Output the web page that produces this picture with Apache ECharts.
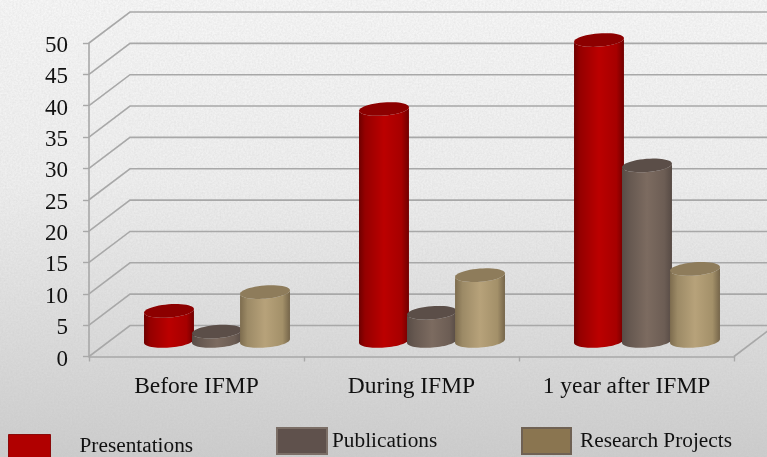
<!DOCTYPE html>
<html><head><meta charset="utf-8">
<script src="https://cdn.jsdelivr.net/npm/echarts@6/dist/echarts.min.js"></script>
<style>
html,body{margin:0;padding:0;width:767px;height:457px;overflow:hidden;background:linear-gradient(180deg,#f8f8f8 0%,#f0f0f0 40%,#cdcdcd 100%);}
#tex{position:absolute;left:0;top:0;width:767px;height:457px;opacity:.28;background-image:url("data:image/svg+xml;utf8,<svg xmlns='http://www.w3.org/2000/svg' width='767' height='457'><filter id='n'><feTurbulence type='fractalNoise' baseFrequency='.55' numOctaves='3' seed='4'/><feColorMatrix values='0 0 0 0 .5 0 0 0 0 .5 0 0 0 0 .5 0 0 0 1.2 -.2'/></filter><rect width='767' height='457' filter='url(%23n)'/></svg>");}
#c{position:absolute;left:0;top:0;width:767px;height:457px;}
</style></head><body><div id="tex"></div><div id="c"></div>
<script>
var categories = ['Before IFMP', 'During IFMP', '1 year after IFMP'];
var presentations = [4.8, 37, 48];
var publications = [1.5, 4.5, 28];
var researchProjects = [7.8, 10.5, 11.5];
var yTicks = [0, 5, 10, 15, 20, 25, 30, 35, 40, 45, 50];

var FONT = '"Liberation Serif","Times New Roman",serif';
var DX = 41, DY = 31;
var LINE = '#a8a8a8';

function ell(cx, cy, rx, ry, from, to, n) {
  var a = -4.5 * Math.PI / 180, out = [];
  for (var i = 0; i <= n; i++) {
    var t = from + (to - from) * i / n;
    out.push([cx + rx * Math.cos(t) * Math.cos(a) - ry * Math.sin(t) * Math.sin(a),
              cy + rx * Math.cos(t) * Math.sin(a) + ry * Math.sin(t) * Math.cos(a)]);
  }
  return out;
}
function grad(stops) {
  return {type: 'linear', x: 0, y: 0, x2: 1, y2: 0,
    colorStops: stops.map(function (s) { return {offset: s[0], color: s[1]}; })};
}
function cylinder(slot, body, cap) {
  return function (params, api) {
    var cat = api.value(0), v = api.value(1);
    var band = api.size([1, 0])[0];
    var p0 = api.coord([cat, 0]), p1 = api.coord([cat, v]);
    var cx = p0[0] + DX / 2 + slot * band * 0.2233;
    var by = p0[1] - DY / 2, ty = p1[1] - DY / 2;
    var rx = band * 0.1165, ry = 6.6;
    var bodyPts = ell(cx, ty, rx, ry, Math.PI, 0, 24).concat(ell(cx, by, rx, ry, 0, Math.PI, 32));
    return {type: 'group', children: [
      {type: 'polygon', shape: {points: bodyPts}, style: {fill: grad(body)}},
      {type: 'polygon', shape: {points: ell(cx, ty, rx, ry, 0, 2 * Math.PI, 48)}, style: {fill: cap}}
    ]};
  };
}
function wall(params, api) {
  var v = api.value(1), cs = params.coordSys;
  var y = api.coord([0, v])[1], x0 = cs.x, x1 = cs.x + cs.width;
  var st = {stroke: LINE, lineWidth: 1.6, fill: 'none'};
  var kids = [{type: 'polyline', shape: {points: [[x0, y], [x0 + DX, y - DY], [x1 + DX, y - DY]]}, style: st}];
  if (v === 0) kids.push({type: 'line', shape: {x1: x1, y1: y, x2: x1 + DX, y2: y - DY}, style: st});
  return {type: 'group', children: kids};
}
function pairs(a) { return a.map(function (v, i) { return [i, v]; }); }
function legendAt(name, left, top, w, h, color, border, bw, pad) {
  return {data: [{name: name, icon: 'rect', itemStyle: {color: color, borderColor: border, borderWidth: bw}}],
    left: left, top: top, itemWidth: w, itemHeight: h, padding: 0, selectedMode: false,
    textStyle: {fontFamily: FONT, fontSize: 21.3, color: '#111', padding: [0, 0, 0, pad]}};
}
var chart = echarts.init(document.getElementById('c'), null, {renderer: 'canvas'});
chart.setOption({
  animation: false,
  backgroundColor: 'transparent',
  grid: {left: 89, top: 43, width: 645, height: 313.5, containLabel: false},
  xAxis: {type: 'category', data: categories,
    axisLine: {lineStyle: {color: LINE, width: 1.6}},
    axisTick: {show: true, length: 5, interval: 0, alignWithLabel: false, lineStyle: {color: LINE, width: 1.4}},
    axisLabel: {fontFamily: FONT, fontSize: 23.5, color: '#111', margin: 18, interval: 0, hideOverlap: false}},
  yAxis: {type: 'value', min: 0, max: 50, interval: 5,
    axisLine: {show: true, lineStyle: {color: LINE, width: 1.6}},
    axisTick: {show: true, length: 6, lineStyle: {color: LINE, width: 1.4}},
    splitLine: {show: false},
    axisLabel: {fontFamily: FONT, fontSize: 23, color: '#111', margin: 21, verticalAlign: 'top', lineHeight: 6}},
  legend: [
    legendAt('Presentations', 8, 434, 42, 24, '#b00000', '#8a0a0a', 1, 24),
    legendAt('Publications', 276, 427, 50, 26, '#5f514c', '#7b6e66', 2, 0),
    legendAt('Research Projects', 521, 427, 49, 26, '#8a7550', '#6f6153', 2, 4)
  ],
  series: [
    {type: 'custom', name: 'wall', silent: true, clip: false, z: 1, renderItem: wall,
      data: yTicks.map(function (t) { return [0, t]; })},
    {type: 'custom', name: 'Presentations', clip: false, z: 2, data: pairs(presentations),
      renderItem: cylinder(-1, [[0,'#6e0000'],[.12,'#950000'],[.5,'#bb0000'],[.85,'#a60000'],[1,'#700000']], '#8c0000')},
    {type: 'custom', name: 'Publications', clip: false, z: 3, data: pairs(publications),
      renderItem: cylinder(0, [[0,'#584c46'],[.15,'#665850'],[.5,'#7c6b60'],[.85,'#6c5d54'],[1,'#564a44']], '#5b4e48')},
    {type: 'custom', name: 'Research Projects', clip: false, z: 4, data: pairs(researchProjects),
      renderItem: cylinder(1, [[0,'#7d6c4e'],[.15,'#9c8a66'],[.5,'#b7a27a'],[.85,'#a39069'],[1,'#75654a']], '#8e7c5b')}
  ]
});
</script></body></html>
